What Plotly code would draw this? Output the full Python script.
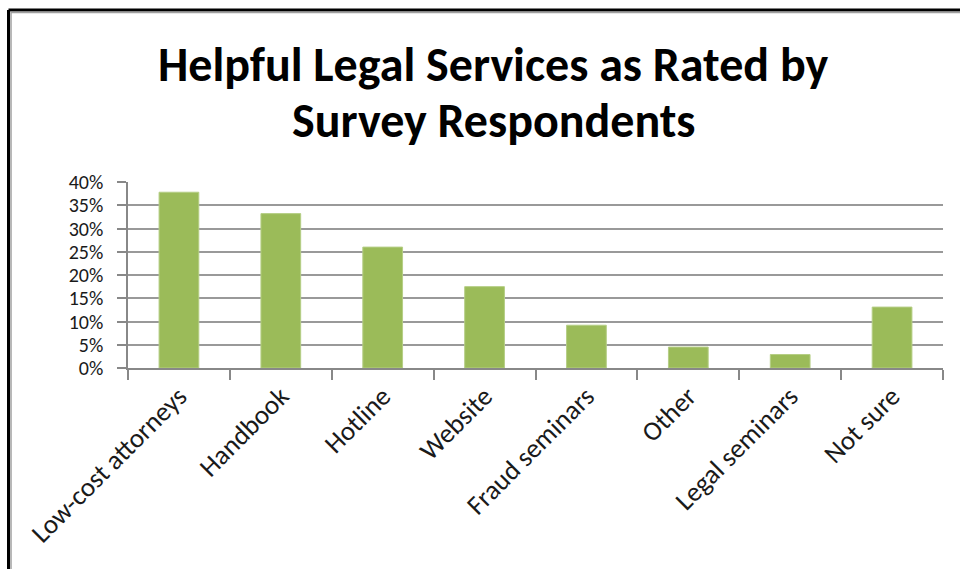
import plotly.graph_objects as go

categories = ["Low-cost attorneys", "Handbook", "Hotline", "Website",
              "Fraud seminars", "Other", "Legal seminars", "Not sure"]
values = [0.378, 0.332, 0.260, 0.175, 0.092, 0.045, 0.029, 0.131]
y_ticks = [0, 0.05, 0.10, 0.15, 0.20, 0.25, 0.30, 0.35, 0.40]
y_tick_labels = ["0%", "5%", "10%", "15%", "20%", "25%", "30%", "35%", "40%"]
title_lines = ["Helpful Legal Services as Rated by", "Survey Respondents"]

W, H = 960, 569
L, R, T, B = 128, 17, 182, 201
pw, ph = W - L - R, H - T - B

def px(x):
    return (x - L) / pw

def py(y):
    return (H - B - y) / ph

font_family = "Calibri, Carlito, Lato, 'Open Sans', sans-serif"

fig = go.Figure(go.Bar(
    x=categories, y=values,
    marker=dict(color="#9BBB59", line=dict(color="#B5CE85", width=1)),
    width=0.39,
))

title_y = [65, 120]
annotations = [
    dict(text="<b>%s</b>" % t, xref="paper", yref="paper",
         x=px(493), y=py(yy), xanchor="center", yanchor="middle",
         showarrow=False,
         font=dict(family=font_family, size=48, color="#000000"))
    for t, yy in zip(title_lines, title_y)
]

fig.update_layout(
    width=W, height=H,
    margin=dict(l=L, r=R, t=T, b=B),
    paper_bgcolor="white", plot_bgcolor="white",
    showlegend=False,
    font=dict(family=font_family, color="#1a1a1a", size=20),
    annotations=annotations,
    xaxis=dict(
        type="category",
        showgrid=False,
        showline=True, linecolor="#888888", linewidth=1.5,
        ticks="outside", tickson="boundaries", ticklen=10,
        tickcolor="#888888", tickwidth=1.5,
        tickangle=-45,
        tickfont=dict(size=27, color="#1a1a1a"),
    ),
    yaxis=dict(
        range=[0, 0.4],
        tickvals=y_ticks, ticktext=y_tick_labels,
        showgrid=True, gridcolor="#999999", gridwidth=1.5,
        showline=True, linecolor="#888888", linewidth=1.5,
        ticks="outside", ticklen=9, tickcolor="#888888", tickwidth=1.5,
        ticklabelstandoff=10,
        tickfont=dict(size=20, color="#1a1a1a"),
        zeroline=False,
    ),
    shapes=[
        dict(type="line", xref="paper", yref="paper",
             x0=px(8.5), x1=px(8.5), y0=py(10), y1=py(H + 5),
             line=dict(color="black", width=3)),
        dict(type="line", xref="paper", yref="paper",
             x0=px(8.5), x1=px(W + 5), y0=py(10), y1=py(10),
             line=dict(color="black", width=3)),
        dict(type="line", xref="paper", yref="paper",
             x0=px(11), x1=px(11), y0=py(12), y1=py(H + 5),
             line=dict(color="#a0a0a0", width=1.5)),
        dict(type="line", xref="paper", yref="paper",
             x0=px(11), x1=px(W + 5), y0=py(12.5), y1=py(12.5),
             line=dict(color="#a0a0a0", width=1.5)),
    ],
)

fig.write_html("out.html")
